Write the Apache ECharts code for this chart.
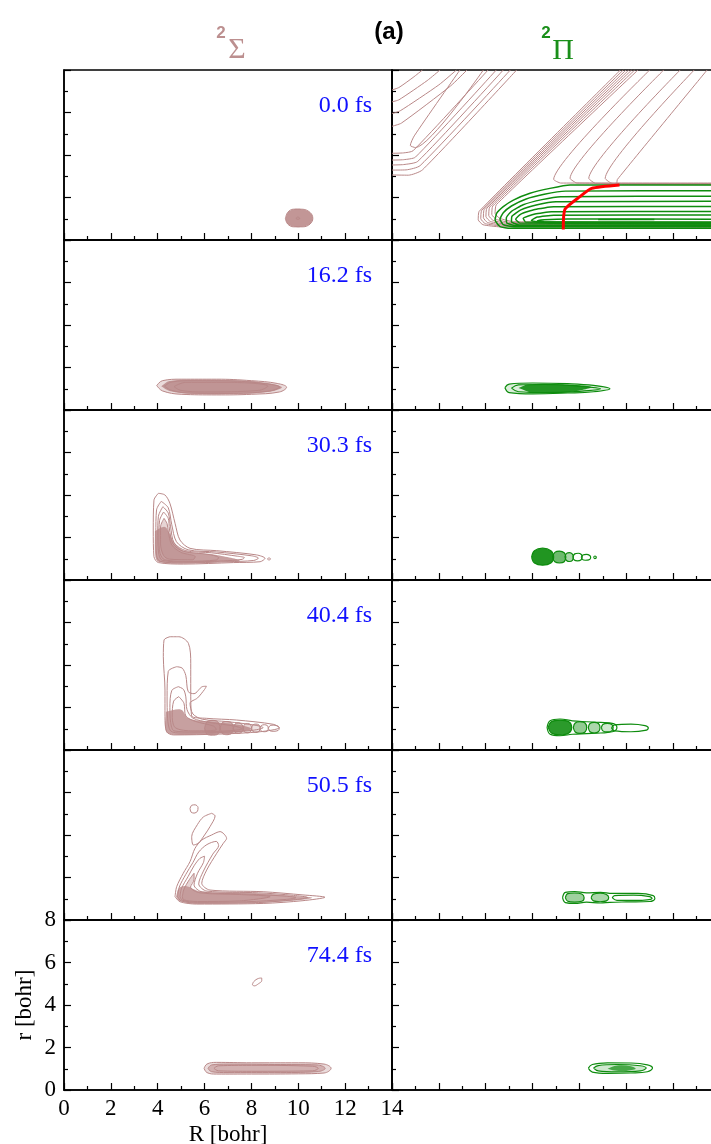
<!DOCTYPE html>
<html><head><meta charset="utf-8">
<script src="https://cdn.jsdelivr.net/npm/echarts@6/dist/echarts.min.js"></script>
<style>html,body{margin:0;padding:0;background:#fff}#c{width:711px;height:1144px}</style>
</head><body><div id="c"></div>
<script>
// ---------- tick labels / texts ----------
const R_TICKS = [0, 2, 4, 6, 8, 10, 12, 14];
const r_TICKS = [0, 2, 4, 6, 8];
const timeLabels = ['0.0 fs', '16.2 fs', '30.3 fs', '40.4 fs', '50.5 fs', '74.4 fs'];

// ---------- row 1 (0.0 fs) ----------
const s0_outline = [[9.45,1.0],[9.55,1.3],[9.8,1.45],[10.15,1.45],[10.5,1.3],[10.62,1.02],[10.5,0.75],[10.2,0.62],[9.8,0.62],[9.55,0.75],[9.45,1.0]];
const s0_inner = [[9.9,1.02],[9.98,1.08],[10.06,1.02],[9.98,0.97],[9.9,1.02]];
// potential-energy contours (2Sigma surface) drawn in the 2Pi panel
const pesLowerWall = [
 [[9.75,8],[3.72,1.35],[3.68,0.95],[3.88,0.72],[4.6,0.62],[14,0.6]],
 [[9.87,8],[3.83,1.4],[3.79,1.0],[3.98,0.77],[4.7,0.66],[14,0.64]],
 [[9.99,8],[3.94,1.45],[3.9,1.05],[4.08,0.82],[4.8,0.7],[14,0.68]],
 [[10.11,8],[4.05,1.5],[4.01,1.1],[4.2,0.87],[4.9,0.74],[14,0.72]],
 [[10.23,8],[4.17,1.55],[4.13,1.15],[4.32,0.92],[5.0,0.78],[14,0.76]],
 [[10.36,8],[4.3,1.6],[4.26,1.2],[4.45,0.97],[5.1,0.82],[14,0.8]],
 [[10.5,8],[4.45,1.66],[4.4,1.25],[4.6,1.02],[5.2,0.86],[14,0.84]]
];
const pesUpperWall = [
 [[11.0,8],[6.9,2.85],[7.2,2.68],[14,2.68]],
 [[11.6,8],[7.6,2.9],[7.9,2.68],[14,2.66]],
 [[12.3,8],[8.4,2.9],[8.7,2.66],[14,2.64]],
 [[12.9,8],[9.1,2.9],[9.4,2.66],[14,2.62]],
 [[13.45,8],[9.62,2.85],[9.6,2.67],[9.85,2.62],[14,2.6]]
];
const pesUpperValley = [
 [[0,7.06],[0.3,7.18],[0.9,7.65],[1.3,8]],
 [[0,6.5],[0.3,6.6],[1.5,7.5],[2.05,8]],
 [[0,5.95],[0.35,6.08],[2.0,7.3],[2.75,8]],
 [[0,5.35],[0.4,5.5],[2.5,7.25],[3.2,8]],
 [[2.9,8],[0.95,4.9],[0.78,4.45],[1.0,4.35],[3.9,8]],
 [[0,4.08],[0.5,4.1],[0.9,4.2],[4.1,8]],
 [[0,3.76],[0.5,3.78],[1.0,3.9],[4.45,8]],
 [[0,3.53],[0.5,3.55],[1.1,3.7],[4.75,8]],
 [[0,3.29],[0.6,3.3],[1.2,3.5],[5.05,8]],
 [[0,3.06],[0.7,3.05],[1.3,3.3],[5.32,8]]
];
const p0_contours = [
 [[14,2.59],[7.6,2.59],[6.74,2.43],[5.89,2.2],[5.18,1.88],[4.75,1.57],[4.47,1.26],[4.4,0.94],[4.61,0.63],[5.04,0.55],[14,0.55]],
 [[14,2.32],[7.4,2.3],[6.5,2.15],[5.7,1.92],[5.1,1.6],[4.75,1.28],[4.61,0.98],[4.75,0.72],[5.2,0.62],[14,0.62]],
 [[14,2.06],[7.2,2.04],[6.4,1.9],[5.6,1.66],[5.1,1.35],[4.88,1.05],[4.9,0.8],[5.3,0.67],[14,0.67]],
 [[14,1.82],[7.0,1.8],[6.2,1.66],[5.5,1.42],[5.12,1.12],[5.1,0.86],[5.4,0.72],[14,0.71]],
 [[14,1.58],[6.9,1.56],[6.1,1.44],[5.5,1.22],[5.28,0.98],[5.45,0.8],[14,0.75]],
 [[14,1.34],[6.8,1.33],[6.1,1.22],[5.6,1.02],[5.7,0.85],[14,0.78]],
 [[14,1.18],[6.9,1.17],[6.2,1.08],[5.95,0.92],[6.3,0.84],[14,0.81]],
 [[14,0.98],[7.5,0.99],[6.5,0.95],[6.2,0.9],[6.5,0.86],[14,0.85]],
 [[8.8,0.97],[11.2,0.97]]
];
const mepPath = [[7.31,0.50],[7.38,1.44],[8.02,2.04],[8.52,2.43],[9.71,2.59]];

// ---------- row 2 (16.2 fs) ----------
const s1_contours = [
 [[3.96,1.15],[4.2,1.38],[5,1.45],[6.5,1.45],[8,1.38],[9.1,1.25],[9.5,1.07],[9.2,0.85],[8,0.74],[6.5,0.71],[5,0.74],[4.2,0.9],[3.96,1.15]],
 [[4.3,1.12],[4.6,1.32],[5.5,1.38],[7,1.37],[8.5,1.25],[9.2,1.08],[8.7,0.88],[7,0.78],[5.5,0.79],[4.6,0.92],[4.3,1.12]],
 [[4.7,1.1],[5.2,1.3],[7,1.3],[8.7,1.12],[8.3,0.92],[6,0.85],[5.0,0.92],[4.7,1.1]]
];
const s1_core = [[4.15,1.12],[4.5,1.36],[5.5,1.42],[7,1.41],[8.5,1.3],[9.3,1.08],[8.8,0.86],[7,0.75],[5.5,0.76],[4.5,0.9],[4.15,1.12]];
const p1_contours = [
 [[4.82,1.05],[5.0,1.22],[6,1.27],[7.5,1.24],[8.6,1.16],[9.3,1.0],[8.6,0.86],[7.5,0.8],[6,0.76],[5.0,0.82],[4.82,1.05]],
 [[5.1,1.03],[5.4,1.18],[6.5,1.2],[8,1.12],[8.9,1.0],[8,0.88],[6.5,0.82],[5.4,0.86],[5.1,1.03]]
];
const p1_core = [[5.4,1.03],[5.8,1.2],[7.2,1.21],[8.5,1.08],[7.6,0.85],[6,0.81],[5.4,1.03]];

// ---------- row 3 (30.3 fs) ----------
const s2_contours = [
 [[4.03,4.08],[3.84,3.76],[3.81,2.35],[3.84,1.1],[4.03,0.82],[5.09,0.75],[7.23,0.82],[8.37,0.86],[8.58,1.02],[8.22,1.18],[6.52,1.38],[5.38,1.49],[4.95,1.88],[4.74,2.67],[4.52,3.61],[4.31,4.0],[4.03,4.08]],
 [[4.15,3.7],[3.95,3.3],[3.92,2.2],[3.95,1.15],[4.1,0.88],[5.1,0.8],[7,0.86],[8.1,0.92],[8.3,1.03],[8.0,1.14],[6.5,1.32],[5.3,1.42],[4.8,1.8],[4.6,2.6],[4.45,3.4],[4.15,3.7]],
 [[4.22,3.45],[4.03,3.0],[4.0,2.1],[4.05,1.2],[4.2,0.92],[5.2,0.85],[6.8,0.9],[7.6,0.97],[7.7,1.05],[7.4,1.12],[6.3,1.28],[5.2,1.38],[4.7,1.75],[4.55,2.5],[4.45,3.15],[4.22,3.45]],
 [[4.25,3.2],[4.08,2.8],[4.05,2.0],[4.1,1.25],[4.3,0.95],[5.3,0.88],[6.5,0.94],[6.6,1.05],[6.2,1.2],[5.1,1.35],[4.65,1.7],[4.5,2.4],[4.45,2.9],[4.25,3.2]],
 [[4.27,2.9],[4.12,2.5],[4.12,1.7],[4.25,1.15],[4.5,0.98],[5.5,0.95],[5.6,1.1],[5.0,1.3],[4.6,1.65],[4.45,2.3],[4.4,2.65],[4.27,2.9]],
 [[8.68,0.99],[8.75,1.04],[8.82,0.99],[8.75,0.94],[8.68,0.99]]
];
const s2_core = [[3.88,2.3],[3.9,1.1],[4.05,0.85],[5,0.78],[6.5,0.85],[7.5,0.92],[6.5,1.18],[5.2,1.35],[4.75,1.7],[4.5,2.2],[4.3,2.5],[3.88,2.3]];
const p2_contours = [
 [[5.96,1.08],[6.08,1.38],[6.43,1.5],[6.78,1.38],[6.9,1.08],[6.78,0.8],[6.43,0.7],[6.08,0.8],[5.96,1.08]],
 [[6.85,1.08],[6.95,1.3],[7.15,1.36],[7.35,1.28],[7.42,1.08],[7.35,0.86],[7.15,0.8],[6.95,0.86],[6.85,1.08]],
 [[7.38,1.08],[7.45,1.25],[7.58,1.29],[7.7,1.22],[7.74,1.08],[7.7,0.92],[7.58,0.87],[7.45,0.92],[7.38,1.08]],
 [[7.72,1.08],[7.8,1.23],[7.95,1.26],[8.08,1.2],[8.12,1.08],[8.06,0.94],[7.92,0.9],[7.78,0.94],[7.72,1.08]],
 [[8.08,1.08],[8.15,1.18],[8.3,1.21],[8.44,1.15],[8.48,1.05],[8.4,0.95],[8.25,0.93],[8.12,0.97],[8.08,1.08]],
 [[8.6,1.07],[8.66,1.13],[8.72,1.07],[8.66,1.01],[8.6,1.07]]
];

// ---------- row 4 (40.4 fs) ----------
const s3_contours = [
 [[4.52,5.33],[4.27,5.18],[4.24,4.39],[4.31,2.82],[4.31,1.57],[4.38,0.86],[4.67,0.71],[6.66,0.75],[8.37,0.86],[9.19,1.05],[8.93,1.21],[7.37,1.41],[6.09,1.49],[5.45,1.6],[5.41,2.82],[5.41,4.08],[5.31,5.02],[4.9,5.33],[4.52,5.33]],
 [[4.81,3.92],[4.45,3.7],[4.4,2.5],[4.42,1.5],[4.55,0.9],[5,0.8],[6.5,0.82],[8.0,0.92],[8.5,1.05],[8.2,1.16],[7,1.33],[5.9,1.45],[5.5,1.7],[5.38,2.2],[5.7,2.45],[6.0,2.85],[6.08,3.0],[5.9,2.98],[5.55,2.65],[5.3,2.75],[5.2,3.5],[5.05,3.85],[4.81,3.92]],
 [[4.88,2.98],[4.6,2.8],[4.52,2.0],[4.55,1.3],[4.7,0.9],[5.5,0.85],[7,0.9],[7.6,1.0],[7.3,1.12],[6.2,1.3],[5.5,1.5],[5.25,1.9],[5.2,2.5],[5.1,2.85],[4.88,2.98]],
 [[4.9,2.51],[4.68,2.3],[4.62,1.6],[4.75,1.05],[5.5,0.9],[6.5,0.95],[6.4,1.12],[5.6,1.35],[5.2,1.6],[5.12,2.2],[4.9,2.51]],
 [[6.0,1.02],[6.1,1.33],[6.33,1.4],[6.56,1.33],[6.66,1.02],[6.56,0.74],[6.33,0.7],[6.1,0.74],[6.0,1.02]],
 [[6.66,1.02],[6.75,1.28],[6.95,1.34],[7.15,1.28],[7.23,1.02],[7.15,0.78],[6.95,0.72],[6.75,0.78],[6.66,1.02]],
 [[7.23,1.02],[7.3,1.22],[7.44,1.28],[7.58,1.22],[7.65,1.02],[7.58,0.83],[7.44,0.78],[7.3,0.83],[7.23,1.02]],
 [[7.65,1.02],[7.7,1.2],[7.83,1.24],[7.96,1.2],[8.01,1.02],[7.96,0.85],[7.83,0.81],[7.7,0.85],[7.65,1.02]],
 [[8.01,1.02],[8.06,1.18],[8.19,1.22],[8.32,1.18],[8.37,1.02],[8.32,0.87],[8.19,0.83],[8.06,0.87],[8.01,1.02]],
 [[8.37,1.02],[8.42,1.15],[8.55,1.19],[8.68,1.15],[8.72,1.02],[8.68,0.89],[8.55,0.86],[8.42,0.89],[8.37,1.02]],
 [[8.72,1.02],[8.8,1.15],[8.96,1.17],[9.14,1.12],[9.19,1.02],[9.14,0.92],[8.96,0.88],[8.8,0.9],[8.72,1.02]]
];
const s3_core = [[4.35,1.8],[4.35,0.9],[4.7,0.72],[6.5,0.77],[7.5,0.85],[8.0,1.0],[7.5,1.18],[6.2,1.35],[5.3,1.5],[5.0,1.9],[4.35,1.8]];
const p3_contours = [
 [[6.62,1.06],[6.75,1.38],[7.17,1.46],[7.7,1.37],[8.3,1.33],[8.9,1.3],[9.45,1.24],[9.6,1.06],[9.45,0.87],[8.9,0.8],[8.3,0.77],[7.7,0.74],[7.17,0.67],[6.75,0.74],[6.62,1.06]],
 [[6.67,1.06],[6.8,1.33],[7.17,1.41],[7.55,1.33],[7.67,1.06],[7.55,0.8],[7.17,0.71],[6.8,0.8],[6.67,1.06]],
 [[7.74,1.06],[7.82,1.27],[8.03,1.33],[8.24,1.27],[8.31,1.06],[8.24,0.85],[8.03,0.78],[7.82,0.85],[7.74,1.06]],
 [[8.38,1.06],[8.45,1.25],[8.63,1.3],[8.81,1.25],[8.88,1.06],[8.81,0.86],[8.63,0.8],[8.45,0.86],[8.38,1.06]],
 [[8.94,1.06],[9.0,1.2],[9.19,1.25],[9.38,1.2],[9.44,1.06],[9.38,0.9],[9.19,0.85],[9.0,0.9],[8.94,1.06]],
 [[9.37,1.04],[9.5,1.18],[10.2,1.22],[10.8,1.15],[10.94,1.04],[10.8,0.92],[10.2,0.86],[9.5,0.9],[9.37,1.04]]
];

// ---------- row 5 (50.5 fs) ----------
const s4_contours = [
 [[5.38,5.25],[5.45,5.4],[5.6,5.42],[5.72,5.3],[5.7,5.12],[5.55,5.03],[5.42,5.08],[5.38,5.25]],
 [[6.3,5.02],[5.95,4.85],[5.7,4.5],[5.45,3.92],[5.52,3.53],[5.73,3.61],[6.0,4.0],[6.23,4.39],[6.45,4.9],[6.3,5.02]],
 [[4.74,1.1],[4.81,1.57],[5.09,2.2],[5.38,2.75],[5.59,3.37],[5.88,3.76],[6.3,4.0],[6.66,4.16],[6.94,3.84],[6.8,3.61],[6.52,3.14],[6.09,2.35],[5.88,1.73],[6.23,1.41],[8.5,1.33],[10.2,1.18],[11.14,1.07],[10.2,0.91],[8.5,0.78],[5.66,0.75],[4.95,0.86],[4.74,1.1]],
 [[4.85,1.1],[4.92,1.55],[5.2,2.15],[5.5,2.7],[5.75,3.2],[6.1,3.55],[6.5,3.7],[6.6,3.5],[6.35,3.1],[5.95,2.3],[5.75,1.7],[6.1,1.36],[8.3,1.28],[9.8,1.16],[10.4,1.06],[9.8,0.95],[8.3,0.82],[5.7,0.79],[5.0,0.9],[4.85,1.1]],
 [[4.95,1.1],[5.02,1.5],[5.3,2.05],[5.55,2.55],[5.8,2.9],[6.0,3.0],[5.95,2.7],[5.7,2.2],[5.55,1.65],[5.9,1.32],[7.8,1.22],[9.5,1.12],[9.9,1.05],[9.5,0.97],[7.8,0.86],[5.7,0.83],[5.05,0.93],[4.95,1.1]],
 [[5.05,1.1],[5.12,1.45],[5.35,1.9],[5.55,2.2],[5.55,1.9],[5.4,1.55],[5.8,1.28],[7.5,1.2],[8.8,1.1],[7.5,0.9],[5.7,0.87],[5.1,0.95],[5.05,1.1]]
];
const s4_core = [[4.78,1.1],[4.9,1.5],[5.2,1.6],[5.8,1.35],[8,1.28],[10.0,1.12],[10.6,1.05],[10.0,0.93],[8,0.8],[5.66,0.77],[4.95,0.88],[4.78,1.1]];
const p4_contours = [
 [[7.28,1.05],[7.4,1.3],[7.8,1.34],[8.3,1.28],[8.9,1.3],[9.4,1.25],[10.5,1.25],[11.15,1.15],[11.22,1.0],[11.0,0.87],[10,0.85],[9.3,0.83],[8.9,0.8],[8.3,0.84],[7.8,0.78],[7.4,0.82],[7.28,1.05]],
 [[7.4,1.05],[7.5,1.24],[7.8,1.27],[8.1,1.22],[8.2,1.05],[8.1,0.88],[7.8,0.84],[7.5,0.88],[7.4,1.05]],
 [[8.5,1.05],[8.6,1.22],[8.88,1.26],[9.15,1.2],[9.25,1.05],[9.15,0.9],[8.88,0.86],[8.6,0.9],[8.5,1.05]],
 [[9.4,1.05],[9.5,1.15],[10.3,1.17],[11.0,1.1],[11.1,1.02],[10.5,0.92],[9.6,0.92],[9.4,1.05]]
];

// ---------- row 6 (74.4 fs) ----------
const s5_contours = [
 [[8.04,4.95],[8.1,5.1],[8.3,5.25],[8.44,5.27],[8.44,5.15],[8.3,5.0],[8.12,4.9],[8.04,4.95]],
 [[5.98,1.02],[6.1,1.22],[6.5,1.3],[8,1.28],[10,1.28],[11.1,1.22],[11.4,1.02],[11.1,0.8],[10,0.76],[8,0.75],[6.5,0.75],[6.1,0.82],[5.98,1.02]],
 [[6.15,1.02],[6.3,1.18],[7,1.22],[9,1.2],[10.8,1.18],[11.15,1.02],[10.8,0.86],[9,0.82],[7,0.82],[6.3,0.86],[6.15,1.02]],
 [[6.4,1.02],[6.6,1.14],[8,1.16],[10.6,1.12],[10.85,1.02],[10.6,0.9],[8,0.88],[6.6,0.9],[6.4,1.02]]
];
const p5_contours = [
 [[8.38,1.03],[8.55,1.2],[9.2,1.28],[10.2,1.27],[10.9,1.18],[11.12,1.03],[10.9,0.86],[10.2,0.8],[9.2,0.78],[8.55,0.84],[8.38,1.03]],
 [[8.6,1.03],[8.8,1.15],[9.6,1.2],[10.6,1.14],[10.85,1.03],[10.6,0.9],[9.6,0.85],[8.8,0.9],[8.6,1.03]]
];
const p5_core = [[9.2,1.0],[9.6,1.15],[10.2,1.12],[10.4,1.0],[10.0,0.9],[9.5,0.92],[9.2,1.0]];

// ---------- styling / layout ----------
const SIG_C = '#b98888', PI_C = '#0e8c0e', RED_C = '#ff0000', TIME_C = '#1010ff';
const TITLE_SIG = '#bc8f8f', TITLE_PI = '#1a8f1a';
const ROW_TOP = 70, ROW_H = 170, COL_LEFT = [64, 392], COL_W = 328;
const SERIF = '"Liberation Serif", "DejaVu Serif", serif';
const SANS = '"Liberation Sans", Arial, sans-serif';

const panels = [
 {g:0, c:SIG_C, w:1, sm:0.4, lines:[s0_outline, s0_inner], fills:[[s0_outline,0.88]]},
 {g:2, c:SIG_C, w:1, sm:0.4, lines:s1_contours, fills:[[s1_contours[0],0.3],[s1_core,0.85]]},
 {g:3, c:PI_C, w:1.2, sm:0.4, lines:p1_contours, fills:[[p1_contours[0],0.15],[p1_core,0.9]]},
 {g:4, c:SIG_C, w:1, sm:0.3, lines:s2_contours, fills:[[s2_contours[4],0.35],[s2_core,0.8]]},
 {g:5, c:PI_C, w:1.2, sm:0.4, lines:p2_contours, fills:[[p2_contours[0],0.92],[p2_contours[1],0.6],[p2_contours[2],0.35]]},
 {g:6, c:SIG_C, w:1, sm:0.3, lines:s3_contours, fills:[[s3_core,0.8],[s3_contours[4],0.6],[s3_contours[5],0.55],[s3_contours[6],0.45],[s3_contours[7],0.35],[s3_contours[8],0.25]]},
 {g:7, c:PI_C, w:1.2, sm:0.4, lines:p3_contours, fills:[[p3_contours[1],0.88],[p3_contours[2],0.45],[p3_contours[3],0.35],[p3_contours[4],0.2]]},
 {g:8, c:SIG_C, w:1, sm:0.3, lines:s4_contours, fills:[[s4_contours[5],0.35],[s4_core,0.75]]},
 {g:9, c:PI_C, w:1.2, sm:0.4, lines:p4_contours, fills:[[p4_contours[1],0.4],[p4_contours[2],0.35]]},
 {g:10, c:SIG_C, w:1, sm:0.4, lines:s5_contours, fills:[[s5_contours[1],0.3],[s5_contours[2],0.5]]},
 {g:11, c:PI_C, w:1.2, sm:0.4, lines:p5_contours, fills:[[p5_contours[1],0.2],[p5_core,0.7]]}
];

const option = {animation:false, backgroundColor:'#fff', grid:[], xAxis:[], yAxis:[], series:[], graphic:[]};

for (let row = 0; row < 6; row++) {
  for (let col = 0; col < 2; col++) {
    const g = row * 2 + col;
    const labelled = (g === 10);
    option.grid.push({left:COL_LEFT[col], top:ROW_TOP + row * ROW_H, width:COL_W, height:ROW_H,
      show:true, borderColor:'#000', borderWidth:1.5, backgroundColor:'transparent',
      containLabel:false, outerBoundsMode:'none'});
    option.xAxis.push({gridIndex:g, type:'value', min:R_TICKS[0], max:R_TICKS[R_TICKS.length-1], interval:2,
      axisLine:{show:true, onZero:false, lineStyle:{color:'#000', width:1.5}},
      axisTick:{show:true, inside:true, length:7, lineStyle:{color:'#000', width:1.2}},
      minorTick:{show:true, splitNumber:2, length:4, lineStyle:{color:'#000', width:1.2}},
      splitLine:{show:false}, minorSplitLine:{show:false},
      axisLabel:{show:labelled, margin:7, color:'#000', fontSize:23, fontFamily:SERIF,
        formatter:function(v){ return R_TICKS.indexOf(v) >= 0 ? String(v) : ''; }},
      name: labelled ? 'R [bohr]' : '', nameLocation:'middle', nameGap:33,
      nameTextStyle:{color:'#000', fontSize:23, fontFamily:SERIF}});
    option.yAxis.push({gridIndex:g, type:'value', min:r_TICKS[0], max:r_TICKS[r_TICKS.length-1], interval:2,
      axisLine:{show:true, onZero:false, lineStyle:{color:'#000', width:1.5}},
      axisTick:{show:true, inside:true, length:7, lineStyle:{color:'#000', width:1.2}},
      minorTick:{show:true, splitNumber:2, length:4, lineStyle:{color:'#000', width:1.2}},
      splitLine:{show:false}, minorSplitLine:{show:false},
      axisLabel:{show:labelled, margin:8, color:'#000', fontSize:23, fontFamily:SERIF,
        formatter:function(v){ return r_TICKS.indexOf(v) >= 0 ? String(v) : ''; }},
      name: labelled ? 'r [bohr]' : '', nameLocation:'middle', nameGap:28, nameRotate:90,
      nameTextStyle:{color:'#000', fontSize:23, fontFamily:SERIF}});
    if (col === 0) {
      option.graphic.push({type:'text', x:372, y:ROW_TOP + row * ROW_H + 36, z:100,
        style:{text:timeLabels[row], fill:TIME_C, font:'24px ' + SERIF,
          align:'right', textAlign:'right', verticalAlign:'middle', textVerticalAlign:'middle'}});
    }
  }
}

function lineSeries(g, pts, color, width, smooth, z) {
  return {type:'line', xAxisIndex:g, yAxisIndex:g, data:pts, symbol:'none', showSymbol:false,
    smooth:smooth, lineStyle:{color:color, width:width}, silent:true, animation:false, z:z, clip:true};
}
function fillSeries(g, pts, color, opacity, z) {
  return {type:'custom', xAxisIndex:g, yAxisIndex:g, silent:true, animation:false, z:z, data:[pts[0]],
    renderItem:function(params, api){
      return {type:'polygon', shape:{points:pts.map(function(p){ return api.coord(p); }), smooth:0.35},
        style:{fill:color, opacity:opacity, stroke:null}};
    }};
}

// top-right panel: surface contours, 2Pi packet, path
pesUpperValley.forEach(function(l){ option.series.push(lineSeries(1, l, SIG_C, 1, 0.2, 3)); });
pesLowerWall.forEach(function(l){ option.series.push(lineSeries(1, l, SIG_C, 1, 0.15, 3)); });
pesUpperWall.forEach(function(l){ option.series.push(lineSeries(1, l, SIG_C, 1, 0.15, 3)); });
p0_contours.forEach(function(l){ option.series.push(lineSeries(1, l, PI_C, 1.5, 0.15, 4)); });
option.series.push(lineSeries(1, mepPath, RED_C, 3, 0.2, 6));

panels.forEach(function(p){
  p.fills.forEach(function(f){ option.series.push(fillSeries(p.g, f[0], p.c, f[1], 2)); });
  p.lines.forEach(function(l){ option.series.push(lineSeries(p.g, l, p.c, p.w, p.sm, 3)); });
});

// column titles and panel tag
function txt(x, y, s, fill, font) {
  return {type:'text', x:x, y:y, z:100, style:{text:s, fill:fill, font:font,
    align:'center', textAlign:'center', verticalAlign:'middle', textVerticalAlign:'middle'}};
}
option.graphic.push(
  txt(389, 32, '(a)', '#000', 'bold 24px ' + SANS),
  txt(221, 33, '2', TITLE_SIG, 'bold 17px ' + SANS),
  txt(237, 50, 'Σ', TITLE_SIG, '30px ' + SERIF),
  txt(546, 33, '2', TITLE_PI, 'bold 17px ' + SANS),
  txt(563, 51, 'Π', TITLE_PI, '30px ' + SERIF)
);

const chart = echarts.init(document.getElementById('c'), null, {renderer:'canvas'});
chart.setOption(option);
</script></body></html>
